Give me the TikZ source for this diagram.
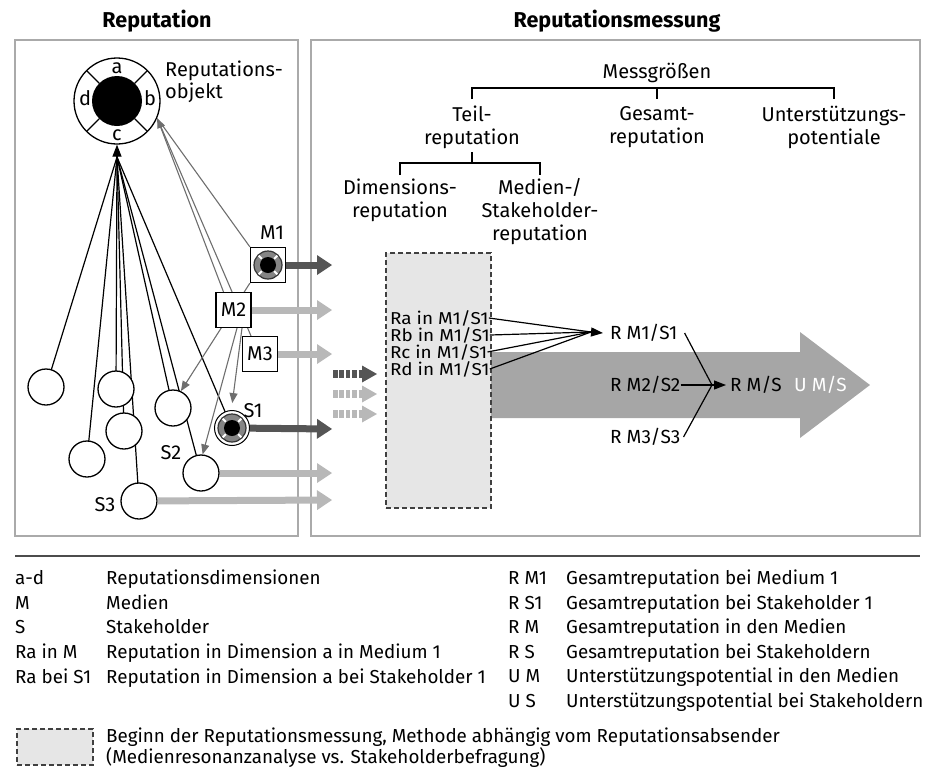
\documentclass[tikz,border=0pt]{standalone}
\usepackage{fontspec}
\setmainfont{Fira Sans}
\newfontfamily\rafam[FakeStretch=1.1]{Fira Sans}
\usetikzlibrary{arrows.meta}
\pgfdeclarelayer{bg}
\pgfsetlayers{bg,main}
\definecolor{darkarr}{HTML}{555555}
\definecolor{lightarr}{HTML}{B8B8B8}
\definecolor{bigarr}{HTML}{A6A6A6}
\definecolor{boxfill}{HTML}{E6E6E6}
\definecolor{panelc}{HTML}{AAAAAA}
\definecolor{grayline}{HTML}{6E6E6E}
\definecolor{ringc}{HTML}{858585}
\newcommand\myfs{\fontsize{20}{22}\selectfont}
\newcommand\myfsb{\fontsize{20}{23}\selectfont}
\newcommand\rmfs{\fontsize{19}{22}\selectfont}
\newcommand\legfs{\fontsize{18.8}{22}\selectfont}
\newcommand\ttlfs{\fontsize{21.5}{24}\selectfont}
\newcommand\rafs{\rafam\fontsize{17.2}{17}\selectfont}
\begin{document}
\begin{tikzpicture}[x=1pt,y=-1pt,
  lbl/.style={font=\myfs, inner sep=0, text height=13.8, text depth=0},
  rml/.style={font=\rmfs, inner sep=0, text height=13, text depth=0, anchor=west},
  leg/.style={font=\legfs, inner sep=0, text height=13, text depth=0, anchor=west},
  ttl/.style={font=\ttlfs\bfseries, inner sep=0, text height=14.8, text depth=0},
  mlt/.style={font=\myfsb, inner sep=0, align=center},
  ralbl/.style={font=\rafs, inner sep=0, text height=12, text depth=0, anchor=west},
  wcirc/.style={circle, draw, fill=white, line width=1.3, minimum size=36, inner sep=0},
  mbox/.style={draw, fill=white, line width=1.2, minimum width=35, minimum height=35, inner sep=0, font=\myfs},
  blk/.style={line width=1.2},
  blkar/.style={line width=1.2, -{Triangle[length=12,width=9]}},
  grayar/.style={draw=grayline, line width=1.1, -{Triangle[length=10,width=8]}},
  grayln/.style={draw=grayline, line width=1.1},
  fatdark/.style={draw=darkarr, line width=7, -{Triangle[length=15,width=20,line width=0pt]}},
  fatlight/.style={draw=lightarr, line width=7, -{Triangle[length=15,width=20,line width=0pt]}},
  dashdark/.style={draw=darkarr, line width=8, dash pattern=on 4.6pt off 1.8pt, -{Triangle[length=15,width=17,line width=0pt]}},
  dashlight/.style={draw=lightarr, line width=8, dash pattern=on 4.6pt off 1.8pt, -{Triangle[length=15,width=17,line width=0pt]}},
  panel/.style={draw=panelc, line width=1.2},
  dbox/.style={draw=black!75, fill=boxfill, line width=1.1, dash pattern=on 5pt off 3pt, inner sep=0},
  minisym/.pic={
    \fill[ringc] (0,0) circle (14);
    \draw[line width=1.2, black!80] (0,0) circle (14);
    \fill[black] (0,0) circle (8);
    \foreach \a in {45,135,225,315} \draw[white, line width=2] (\a:8.7) -- (\a:13.2);
  }
]
\useasboundingbox (0,0) rectangle (938,780);

% panels
\draw[panel] (15,40) rectangle (298,536);
\draw[panel] (311,40) rectangle (920,536);
\node[ttl] (t1) at (157,20) {Reputation};
\node[ttl] (t2) at (617,20) {Reputationsmessung};

% reputation object
\node[circle, draw, line width=1.3, minimum size=86, inner sep=0] (obj) at (117,101) {};
\fill[black] (obj.center) circle (25);
\foreach \a in {45,135,225,315} \draw[line width=1.2] (obj.center) ++(\a:25) -- ++(\a:18);
\node[lbl] (la) at (117,67) {a};
\node[lbl] (lb) at (150,99) {b};
\node[lbl] (lc) at (117,134) {c};
\node[lbl] (ld) at (85,99) {d};
\node[font=\myfs, inner sep=0, align=left, anchor=west] (robj) at (165,82) {Reputations-\\objekt};
\coordinate (A) at (117,157);

% stakeholder circles
\node[wcirc] (c1) at (46,387) {};
\node[wcirc] (c5) at (87,459) {};
\node[wcirc] (c2) at (116,389) {};
\node[wcirc] (c3) at (124,431) {};
\node[wcirc] (s3) at (139,501) {};
\node[wcirc] (c4) at (173,408) {};
\node[wcirc] (s2) at (201,473) {};
\node[circle, draw, fill=white, line width=1, minimum size=35, inner sep=0] (s1) at (232,428) {};
\pic at (s1.center) {minisym};
\node[lbl] (s1l) at (253,411) {S1};
\node[lbl] (s2l) at (171,453) {S2};
\node[lbl] (s3l) at (105,505) {S3};

% media boxes
\node[mbox] (m1) at (268,265) {};
\pic at (m1.center) {minisym};
\node[lbl] (m1l) at (272,233) {M1};
\node[mbox] (m2) at (233.5,310) {M2};
\node[mbox] (m3) at (260,354) {M3};

\begin{pgfonlayer}{bg}
  \foreach \t in {c1,c5,c2,c3,s3,c4,s2,s1} \draw[blk] (A) -- (\t.center);
  \draw[grayln, shorten >=6] (m1.north west) -- (obj.-23);
  \draw[grayln, shorten >=6] ([xshift=-10]m2.north) -- (obj.-23);
  \draw[grayar] ([xshift=-9]m3.north) -- (obj.-23);
  \draw[grayar] (m1.south west) -- (c4.65);
  \draw[grayar] ([xshift=3.5]m2.south) -- (s2.85);
  \draw[grayar, shorten >=7] ([xshift=8.5]m2.south) -- (s1.92);
\end{pgfonlayer}
\draw[blkar] (A) -- (obj.south);

% horizontal arrows into measurement
\coordinate (m1e) at (332,265);
\coordinate (m2e) at (332,310);
\coordinate (m3e) at (332,354);
\coordinate (s1e) at (332,429);
\coordinate (s2e) at (332,473);
\coordinate (s3e) at (332,500);
\draw[fatdark] (m1) -- (m1e);
\draw[fatlight] (m2) -- (m2e);
\draw[fatlight] (m3) -- (m3e);
\draw[fatdark] (s1) -- (s1e);
\draw[fatlight] (s2) -- (s2e);
\draw[fatlight] (s3) -- (s3e);

% dashed arrows
\coordinate (d1s) at (333,374); \coordinate (d1e) at (377,374);
\coordinate (d2s) at (333,394); \coordinate (d2e) at (377,394);
\coordinate (d3s) at (333,414); \coordinate (d3e) at (377,414);
\draw[dashdark] (d1s) -- (d1e);
\draw[dashlight] (d2s) -- (d2e);
\draw[dashlight] (d3s) -- (d3e);

% hierarchy
\node[lbl] (mess) at (657,72) {Messgrößen};
\node[mlt] (teil) at (472,127) {Teil-\\reputation};
\node[mlt] (ges) at (657,127) {Gesamt-\\reputation};
\node[mlt] (unt) at (834,127) {Unterstützungs-\\potentiale};
\node[mlt] (dim) at (400,200) {Dimensions-\\reputation};
\node[mlt] (med) at (540,212) {Medien-/\\Stakeholder-\\reputation};
\coordinate (brA) at (657,88);
\coordinate (brB) at (657,99);
\draw[line width=1.1] (teil |- brB) -- (teil |- brA) -- (unt |- brA) -- (unt |- brB);
\draw[line width=1.1] (ges |- brA) -- (ges |- brB);
\coordinate (sbA) at (472,152);
\coordinate (sbB) at (472,163);
\coordinate (sbC) at (472,175);
\draw[line width=1.1] (teil |- sbA) -- (teil |- sbB);
\draw[line width=1.1] (dim |- sbC) -- (dim |- sbB) -- (med |- sbB) -- (med |- sbC);

% big arrow
\fill[bigarr] (491,352) -- (800,352) -- (800,332) -- (870,385) -- (800,438) -- (800,418) -- (491,418) -- cycle;
\node[dbox, minimum width=105, minimum height=255] (db) at (438.5,380.5) {};
\node[ralbl] (ra) at (390,318) {Ra in M1/S1};
\node[ralbl] (rb) at (390,335) {Rb in M1/S1};
\node[ralbl] (rc) at (390,352) {Rc in M1/S1};
\node[ralbl] (rd) at (390,369) {Rd in M1/S1};
\node[rml] (rm1) at (610,333) {R M1/S1};
\node[rml] (rm2) at (610,385) {R M2/S2};
\node[rml] (rm3) at (610,437) {R M3/S3};
\node[rml] (rms) at (730,385) {R M/S};
\node[rml, text=white] (ums) at (794,385) {U M/S};
\coordinate (cv) at (591,332);
\foreach \r in {ra,rb,rc,rd} \draw[blk] (\r.east) -- (cv);
\draw[blkar] (cv) -- ([xshift=-7]rm1.west);
\coordinate (J) at (712,385);
\draw[blk] ([xshift=7]rm1.east) -- (J);
\draw[blk] ([xshift=3]rm3.east) -- (J);
\draw[blkar] (rm2.east) -- ([xshift=-4]rms.west);

% legend
\draw[draw=black!70, line width=1.5] (15,556) -- (920,556);
\foreach \y/\a/\b [count=\i] in {578/a-d/Reputationsdimensionen, 603/M/Medien, 627/S/Stakeholder, 652/Ra in M/Reputation in Dimension a in Medium 1, 677/Ra bei S1/Reputation in Dimension a bei Stakeholder 1}{
  \node[leg] (lka\i) at (15,\y) {\a};
  \node[leg] (lta\i) at (106,\y) {\b};
}
\foreach \y/\a/\b [count=\i] in {578/R M1/Gesamtreputation bei Medium 1, 603/R S1/Gesamtreputation bei Stakeholder 1, 627/R M/Gesamtreputation in den Medien, 652/R S/Gesamtreputation bei Stakeholdern, 676/U M/Unterstützungspotential in den Medien, 701/U S/Unterstützungspotential bei Stakeholdern}{
  \node[leg] (lkb\i) at (508,\y) {\a};
  \node[leg] (ltb\i) at (566,\y) {\b};
}
\node[dbox, minimum width=76, minimum height=36] (ldb) at (55,747) {};
\node[font=\fontsize{18.8}{17}\selectfont, inner sep=0, align=left, anchor=west] (ldt) at (106,748) {Beginn der Reputationsmessung, Methode abhängig vom Reputationsabsender\\(Medienresonanzanalyse vs. Stakeholderbefragung)};
\end{tikzpicture}
\end{document}
